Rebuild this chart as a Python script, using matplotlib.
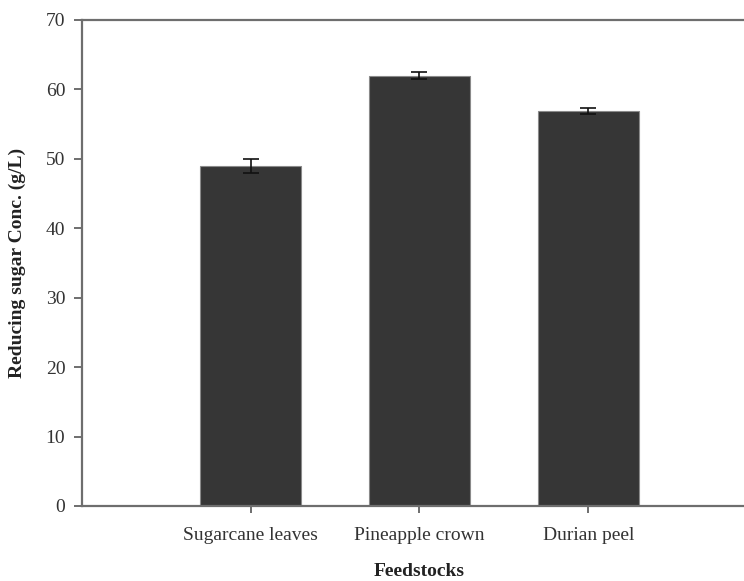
import matplotlib
matplotlib.use("Agg")
import matplotlib.pyplot as plt

# Reducing sugar yield per feedstock (mean and standard deviation)
feedstocks = ["Sugarcane leaves", "Pineapple crown", "Durian peel"]
sugar_conc = [49.0, 62.0, 56.9]
sugar_err = [1.05, 0.55, 0.4]

W, H = 744, 581
fig = plt.figure(figsize=(W / 100, H / 100), dpi=100)
plt.rcParams["font.family"] = ["Liberation Serif", "DejaVu Serif"]

# axes run off the right edge of the figure, so no right frame shows
left, right, top, bottom = 82, 757, 20, 506
ax = fig.add_axes([left / W, (H - bottom) / H, (right - left) / W, (bottom - top) / H])

x = [1, 2, 3]
ax.bar(x, sugar_conc, width=0.6, color="#363636", edgecolor="#8a8a8a", linewidth=0.8, zorder=2)
ax.errorbar(x, sugar_conc, yerr=sugar_err, fmt="none", ecolor="#111111",
            elinewidth=1.2, capsize=5.5, capthick=1.2, zorder=3)

ax.set_xlim(0, 4)
ax.set_ylim(0, 70)
ax.set_yticks(range(0, 71, 10))
ax.set_xticks(x)
ax.set_xticklabels(feedstocks)

spine_col = "#6e6e6e"
for side in ["left", "top", "bottom"]:
    ax.spines[side].set_color(spine_col)
    ax.spines[side].set_linewidth(1.6)
ax.spines["right"].set_visible(False)

ax.tick_params(axis="both", direction="out", colors=spine_col, labelcolor="#333333",
               labelsize=14, width=1.4)
ax.tick_params(axis="y", length=6, pad=6)
ax.tick_params(axis="x", length=5, pad=10)

ax.set_ylabel("Reducing sugar Conc. (g/L)", fontsize=14, fontweight="bold", color="#222222", labelpad=14)
ax.set_xlabel("Feedstocks", fontsize=14, fontweight="bold", color="#222222", labelpad=14)

fig.savefig("out.png", dpi=100)
